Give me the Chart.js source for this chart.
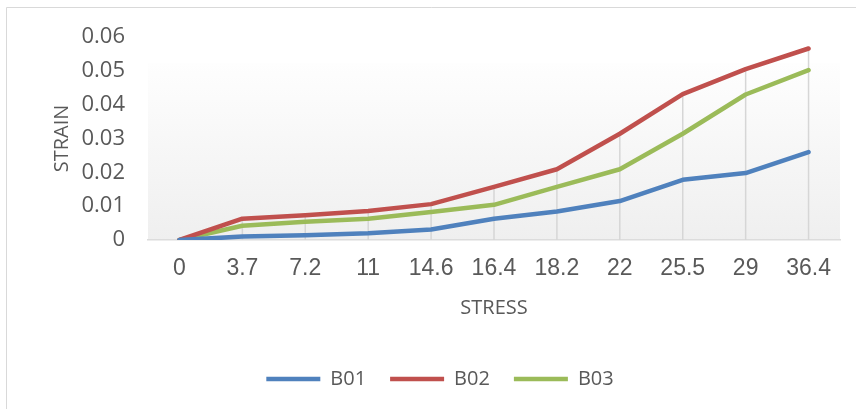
<!DOCTYPE html>
<html>
<head>
<meta charset="utf-8">
<script src="https://cdn.jsdelivr.net/npm/chart.js@4.4.1/dist/chart.umd.min.js"></script>
<style>
  html, body { margin: 0; padding: 0; background: #ffffff; }
  #wrap { width: 856px; height: 409px; position: relative; }
</style>
</head>
<body>
<div id="wrap"><canvas id="c" width="856" height="409"></canvas></div>
<script>
// Stress levels (category axis) and measured strain per specimen
const stressLabels = ['0', '3.7', '7.2', '11', '14.6', '16.4', '18.2', '22', '25.5', '29', '36.4'];
const strainB01 = [0, 0.0010, 0.0014, 0.0020, 0.0031, 0.0063, 0.0084, 0.0115, 0.0178, 0.0198, 0.0260];
const strainB02 = [0, 0.0063, 0.0073, 0.0086, 0.0106, 0.0157, 0.0209, 0.0314, 0.0431, 0.0505, 0.0566];
const strainB03 = [0, 0.0042, 0.0054, 0.0063, 0.0083, 0.0104, 0.0157, 0.0209, 0.0314, 0.0430, 0.0502];
const seriesNames = ['B01', 'B02', 'B03'];
const seriesColors = ['#4F81BD', '#C0504D', '#9BBB59'];

const textColor = '#595959';

// Outer frame, plot-area gradient and drop lines
const decor = {
  id: 'decor',
  beforeDraw(chart) {
    const {ctx, chartArea: a} = chart;
    ctx.save();
    ctx.fillStyle = '#ffffff';
    ctx.fillRect(0, 0, chart.width, chart.height);
    ctx.strokeStyle = '#d9d9d9';
    ctx.lineWidth = 1;
    ctx.beginPath();
    ctx.moveTo(6.5, chart.height);
    ctx.lineTo(6.5, 7.5);
    ctx.lineTo(chart.width, 7.5);
    ctx.stroke();
    const top = a.top + 26;
    const g = ctx.createLinearGradient(0, top, 0, a.bottom);
    g.addColorStop(0, '#fefefe');
    g.addColorStop(1, '#efefef');
    ctx.fillStyle = g;
    ctx.fillRect(a.left, top, a.right - a.left, a.bottom - top);
    ctx.restore();
  },
  beforeDatasetsDraw(chart) {
    const {ctx, scales: {x, y}} = chart;
    const sets = chart.data.datasets;
    ctx.save();
    ctx.strokeStyle = '#d6d6d6';
    ctx.lineWidth = 1.5;
    for (let i = 0; i < stressLabels.length; i++) {
      const hi = Math.max(...sets.map(d => d.data[i]));
      const px = x.getPixelForValue(i);
      ctx.beginPath();
      ctx.moveTo(px, y.getPixelForValue(hi));
      ctx.lineTo(px, y.getPixelForValue(0));
      ctx.stroke();
    }
    ctx.restore();
  }
};

const seriesData = [strainB01, strainB02, strainB03];

new Chart(document.getElementById('c'), {
  type: 'line',
  data: {
    labels: stressLabels,
    datasets: seriesNames.map((name, i) => ({
      label: name,
      data: seriesData[i],
      borderColor: seriesColors[i],
      backgroundColor: seriesColors[i],
      borderWidth: 4.5,
      borderCapStyle: 'round',
      borderJoinStyle: 'round',
      pointRadius: 0,
      pointHoverRadius: 0,
      tension: 0,
      fill: false
    }))
  },
  options: {
    responsive: false,
    animation: false,
    layout: { padding: { top: 37, right: 16, bottom: 10, left: 40 } },
    plugins: {
      tooltip: { enabled: false },
      legend: {
        position: 'bottom',
        labels: {
          usePointStyle: true,
          pointStyle: 'line',
          pointStyleWidth: 54,
          padding: 24,
          color: textColor,
          font: { family: "'Open Sans', sans-serif", size: 20 }
        }
      }
    },
    scales: {
      x: {
        type: 'category',
        offset: true,
        grid: { display: false, drawTicks: false },
        border: { display: true, color: '#dcdcdc', width: 1.5 },
        ticks: {
          color: textColor,
          padding: 15,
          maxRotation: 0,
          autoSkip: false,
          font: { family: "'Liberation Sans', Arial, sans-serif", size: 23 }
        },
        title: {
          display: true,
          text: 'STRESS',
          color: textColor,
          padding: { top: 0, bottom: 25 },
          font: { family: "'Open Sans', sans-serif", size: 20 }
        },
        afterFit(scale) { scale.height = 105; }
      },
      y: {
        min: 0,
        max: 0.06,
        grid: { display: false, drawTicks: false },
        border: { display: false },
        ticks: {
          stepSize: 0.01,
          color: textColor,
          padding: 23,
          font: { family: "'Open Sans', sans-serif", size: 22 }
        },
        title: {
          display: true,
          text: 'STRAIN',
          color: textColor,
          padding: { top: 10, bottom: 0 },
          font: { family: "'Open Sans', sans-serif", size: 20 }
        },
        afterFit(scale) { scale.width = 108; }
      }
    }
  },
  plugins: [decor]
});
</script>
</body>
</html>
